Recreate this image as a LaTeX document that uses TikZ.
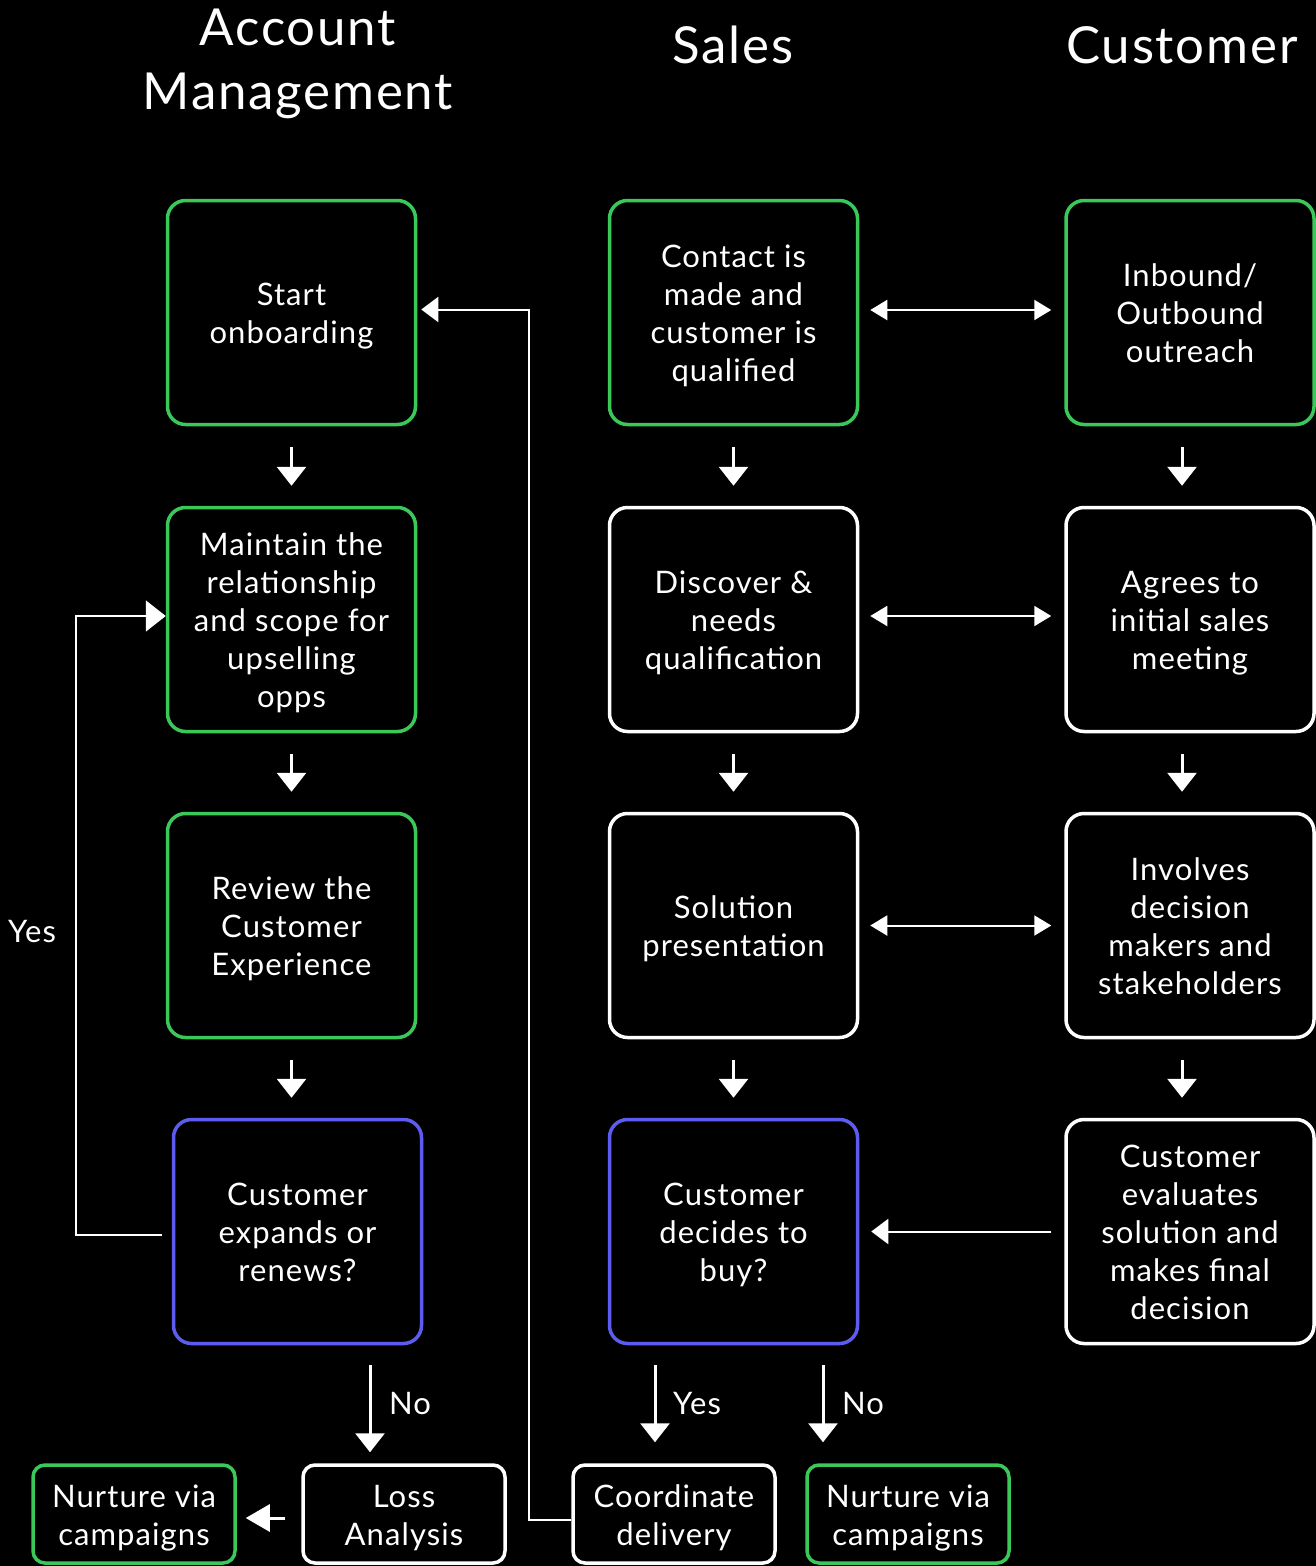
\documentclass[tikz,border=0pt]{standalone}
\usepackage{fontspec}
\setmainfont{Lato}[LetterSpace=3.5]
\usetikzlibrary{arrows.meta}
\definecolor{cgreen}{RGB}{58,200,88}
\definecolor{cpurple}{RGB}{92,92,240}
\newcommand\bxt[1]{\raisebox{-4.5pt}[\height][\depth]{\begin{tabular}{@{}c@{}}#1\end{tabular}}}
\begin{document}
\begin{tikzpicture}[x=1pt,y=-1pt,
  box/.style={draw=white, line width=3.5pt, rounded corners=18pt, minimum width=248pt, minimum height=224pt, align=center, text=white, font=\fontsize{31}{38}\selectfont, inner sep=0pt},
  gbox/.style={box, draw=cgreen},
  pbox/.style={box, draw=cpurple},
  sbox/.style={box, minimum width=202pt, minimum height=98pt, rounded corners=12pt},
  sgbox/.style={sbox, draw=cgreen},
  title/.style={text=white, align=center, font=\fontsize{51}{64}\selectfont, inner sep=0pt},
  lbl/.style={text=white, font=\fontsize{31}{38}\selectfont, inner sep=0pt},
  varrow/.style={white, line width=3pt, -{Triangle[length=19pt,width=29pt]}},
  harrow/.style={white, line width=2pt, {Triangle[length=17pt,width=20pt]}-{Triangle[length=17pt,width=20pt]}},
  larrow/.style={white, line width=2pt, -{Triangle[length=17pt,width=25pt]}},
  ]
\fill[black] (0,0) rectangle (1316,1566);
\useasboundingbox (0,0) rectangle (1316,1566);
% titles
\node[title] (t1) at (298,64) {Account\\Management};
\node[title] (t2) at (733,45) {Sales};
\node[title] (t3) at (1182,45) {Customer};
% column 1
\node[gbox] (a1) at (291.5,312.5) {\bxt{Start\\onboarding}};
\node[gbox] (a2) at (291.5,619.5) {\bxt{Maintain the\\relationship\\and scope for\\upselling\\opps}};
\node[gbox] (a3) at (291.5,925.5) {\bxt{Review the\\Customer\\Experience}};
\node[pbox] (a4) at (297.5,1231.5) {\bxt{Customer\\expands or\\renews?}};
% column 2
\node[gbox] (b1) at (733.5,312.5) {\bxt{Contact is\\made and\\customer is\\qualified}};
\node[box] (b2) at (733.5,619.5) {\bxt{Discover \&\\needs\\qualification}};
\node[box] (b3) at (733.5,925.5) {\bxt{Solution\\presentation}};
\node[pbox] (b4) at (733.5,1231.5) {\bxt{Customer\\decides to\\buy?}};
% column 3
\node[gbox] (c1) at (1190,312.5) {\bxt{Inbound/\\Outbound\\outreach}};
\node[box] (c2) at (1190,619.5) {\bxt{Agrees to\\initial sales\\meeting}};
\node[box] (c3) at (1190,925.5) {\bxt{Involves\\decision\\makers and\\stakeholders}};
\node[box] (c4) at (1190,1231.5) {\bxt{Customer\\evaluates\\solution and\\makes final\\decision}};
% bottom row
\node[sgbox] (n1) at (134,1514) {\bxt{Nurture via\\campaigns}};
\node[sbox] (d1) at (404,1514) {\bxt{Loss\\Analysis}};
\node[sbox] (d2) at (674,1514) {\bxt{Coordinate\\delivery}};
\node[sgbox] (n2) at (908,1514) {\bxt{Nurture via\\campaigns}};
% labels
\node[lbl] (ly1) at (32,932) {Yes};
\node[lbl] (ln1) at (410,1403) {No};
\node[lbl] (ly2) at (697,1403) {Yes};
\node[lbl] (ln2) at (863,1403) {No};
% vertical arrows
\draw[varrow, shorten <=21pt, shorten >=20pt] (a1.south) -- (a2.north);
\draw[varrow, shorten <=21pt, shorten >=20pt] (a2.south) -- (a3.north);
\draw[varrow, shorten <=21pt, shorten >=20pt] (a3.south) -- (a3.south |- a4.north);
\draw[varrow, shorten <=21pt, shorten >=20pt] (b1.south) -- (b2.north);
\draw[varrow, shorten <=21pt, shorten >=20pt] (b2.south) -- (b3.north);
\draw[varrow, shorten <=21pt, shorten >=20pt] (b3.south) -- (b4.north);
\draw[varrow, shorten <=21pt, shorten >=20pt] ([xshift=-8pt]c1.south) -- ([xshift=-8pt]c2.north);
\draw[varrow, shorten <=21pt, shorten >=20pt] ([xshift=-8pt]c2.south) -- ([xshift=-8pt]c3.north);
\draw[varrow, shorten <=21pt, shorten >=20pt] ([xshift=-8pt]c3.south) -- ([xshift=-8pt]c4.north);
% horizontal double arrows
\draw[harrow, shorten <=11pt, shorten >=13pt] ([yshift=2.5pt]b1.east) -- ([yshift=2.5pt]c1.west);
\draw[harrow, shorten <=11pt, shorten >=13pt] ([yshift=3.5pt]b2.east) -- ([yshift=3.5pt]c2.west);
\draw[harrow, shorten <=11pt, shorten >=13pt] (b3.east) -- (c3.west);
\draw[larrow, shorten <=13pt, shorten >=12pt] (c4.west) -- (b4.east);
% decision branches
\draw[varrow, shorten <=20pt, shorten >=21pt] ([xshift=-78.5pt]b4.south) -- ([xshift=-78.5pt]b4.south |- d2.north);
\draw[varrow, shorten <=20pt, shorten >=21pt] ([xshift=89.5pt]b4.south) -- ([xshift=89.5pt]b4.south |- n2.north);
\draw[varrow, shorten <=20pt, shorten >=11pt] ([xshift=72.5pt]a4.south) -- ([xshift=72.5pt]a4.south |- d1.north);
\draw[white, line width=3pt, -{Triangle[length=24pt,width=27pt]}, shorten <=16pt, shorten >=9pt] ([yshift=-4pt]d1.west) -- ([yshift=-4pt]n1.east);
% loops
\draw[white, line width=2pt, -{Triangle[length=20pt,width=31pt]}, shorten <=10pt] ([yshift=-3.5pt]a4.west) -- ++(-95.5,0) |- ([yshift=3.5pt]a2.west);
\draw[larrow, shorten >=4pt] ([yshift=-6pt]d2.west) -- ++(-42.75,0) |- ([yshift=3pt]a1.east);
\end{tikzpicture}
\end{document}
